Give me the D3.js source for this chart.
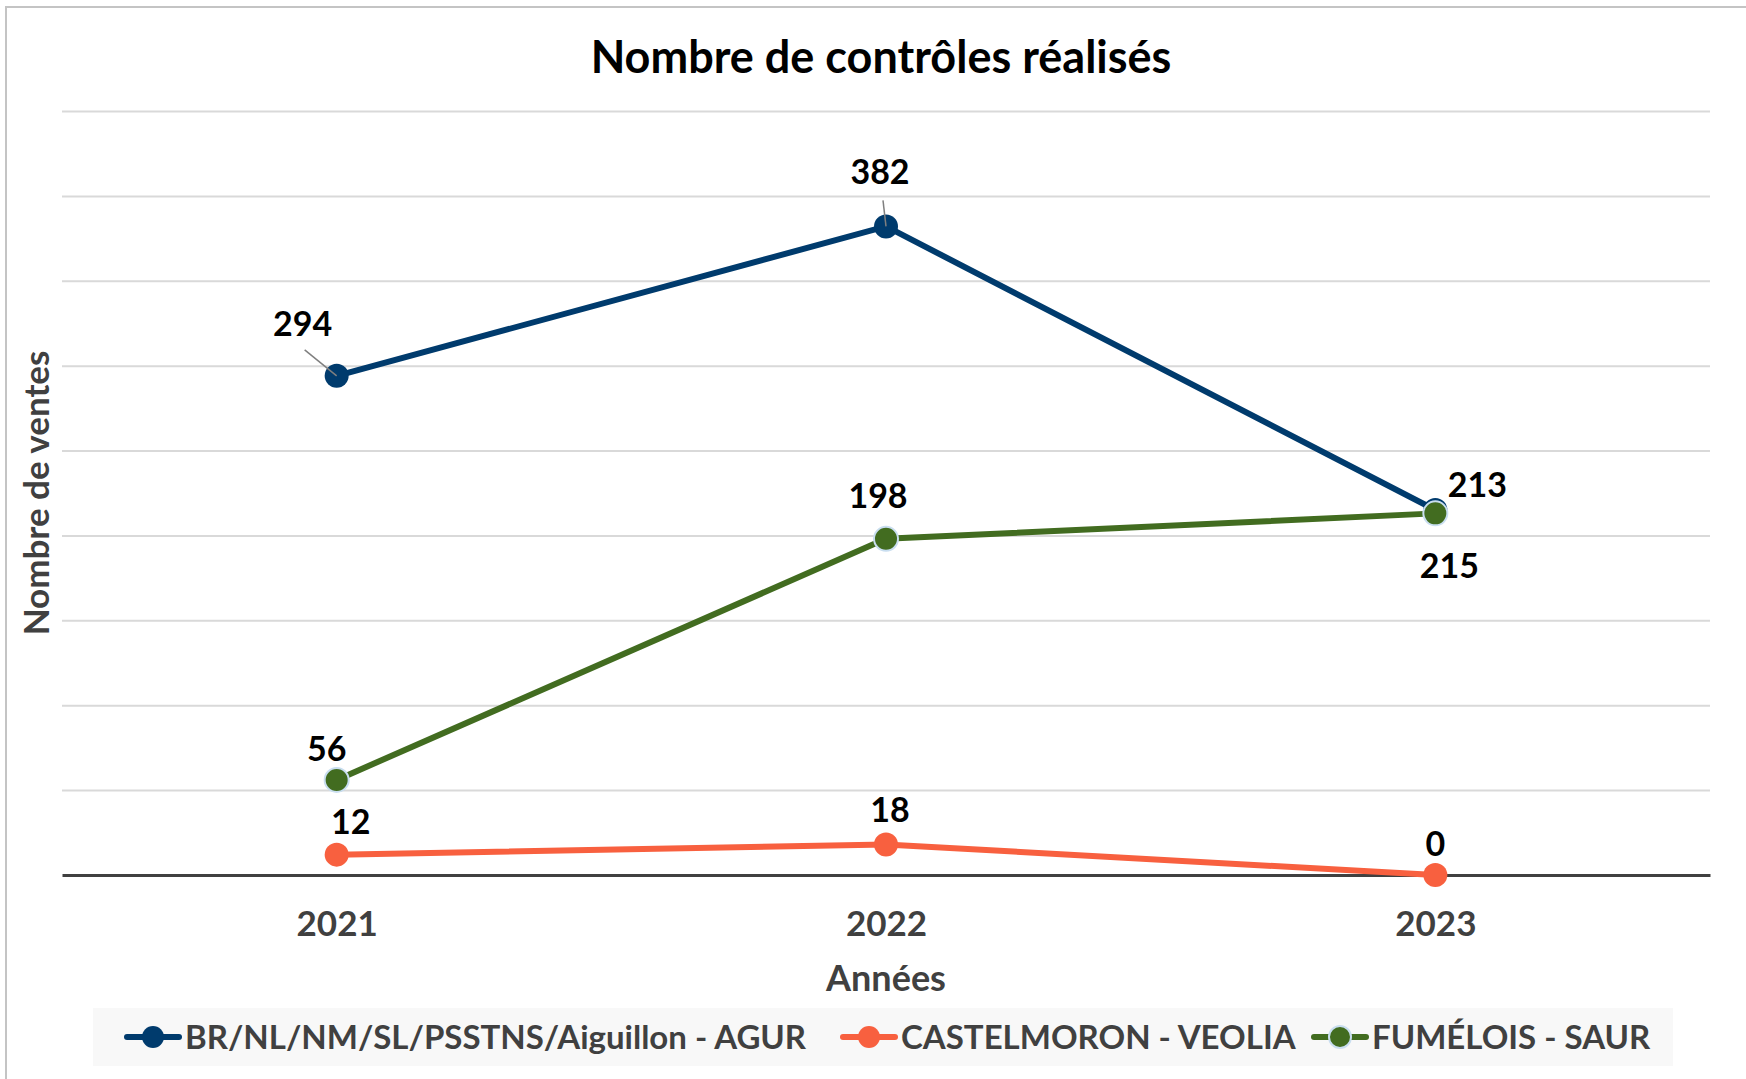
<!DOCTYPE html>
<html>
<head>
<meta charset="utf-8">
<script src="https://cdn.jsdelivr.net/npm/d3@7"></script>
<style>
  body { margin: 0; background: #fff; }
  text { font-family: Lato, 'Open Sans', sans-serif; font-weight: bold; }
</style>
</head>
<body>
<div class="chart"></div>
<script>
const years = ['2021', '2022', '2023']
const seriesNames = [
  'BR/NL/NM/SL/PSSTNS/Aiguillon - AGUR',
  'CASTELMORON - VEOLIA',
  'FUMÉLOIS - SAUR'
]
const agurValues = [294, 382, 215]
const veoliaValues = [12, 18, 0]
const saurValues = [56, 198, 213]
const yTicks = [0, 50, 100, 150, 200, 250, 300, 350, 400, 450]

// label offsets (dx, dy) relative to each point, in px
const labelOffsets = [
  [[-34, -52], [-6, -54], [14, 56]],
  [[14, -33], [4, -34], [0, -31]],
  [[-10, -31], [-8, -43], [42, -28]]
]
const leaderLines = [[true, true, false], [false, false, false], [false, false, false]]

const colors = ['#003b6d', '#f8603f', '#426c20']

const W = 1746
const H = 1079
const margin = {top: 111, right: 36, bottom: 204, left: 62}
const width = W - margin.left - margin.right
const height = H - margin.top - margin.bottom

const svg = d3.select('.chart')
  .append('svg')
  .attr('width', W)
  .attr('height', H)

svg.append('rect')
  .attr('width', W)
  .attr('height', H)
  .attr('fill', '#fff')

// outer chart frame
svg.append('rect')
  .attr('x', 6)
  .attr('y', 7)
  .attr('width', W + 20)
  .attr('height', H + 20)
  .attr('fill', 'none')
  .attr('stroke', '#c4c4c4')
  .attr('stroke-width', 2)

svg.append('text')
  .attr('x', 881)
  .attr('y', 73)
  .attr('text-anchor', 'middle')
  .style('font-size', '45px')
  .attr('fill', '#000')
  .text('Nombre de contrôles réalisés')

const g = svg.append('g')
  .attr('transform', 'translate(' + margin.left + ',' + margin.top + ')')

const x = d3.scalePoint()
  .domain(years)
  .range([0, width])
  .padding(0.5)

const y = d3.scaleLinear()
  .domain([0, 450])
  .range([height, 0])

// gridlines
g.append('g')
  .attr('class', 'grid')
  .call(d3.axisLeft(y).tickValues(yTicks.slice(1)).tickSize(-width).tickFormat(''))
  .call(s => s.select('.domain').remove())
  .call(s => s.selectAll('line').attr('stroke', '#d9d9d9').attr('stroke-width', 2))

// x axis
const xAxis = g.append('g')
  .attr('transform', 'translate(0,' + height + ')')
  .call(d3.axisBottom(x).tickSize(0).tickPadding(36))
xAxis.select('.domain')
  .attr('stroke', '#404040')
  .attr('stroke-width', 3)
xAxis.selectAll('text')
  .style('font-size', '35px')
  .attr('fill', '#404040')
  .attr('dy', '0.71em')

g.append('text')
  .attr('x', width / 2)
  .attr('y', height + 116)
  .attr('text-anchor', 'middle')
  .style('font-size', '36px')
  .attr('fill', '#404040')
  .text('Années')

svg.append('text')
  .attr('transform', 'translate(37,' + 493 + ') rotate(-90)')
  .attr('text-anchor', 'middle')
  .attr('dy', '0.35em')
  .style('font-size', '35px')
  .attr('fill', '#404040')
  .text('Nombre de ventes')

const series = [agurValues, veoliaValues, saurValues].map((vals, i) => ({
  name: seriesNames[i],
  color: colors[i],
  values: vals.map((v, j) => ({year: years[j], value: v, i: i, j: j}))
}))

const line = d3.line()
  .x(d => x(d.year))
  .y(d => y(d.value))

series.forEach((s, i) => {
  const sg = g.append('g')
  sg.append('path')
    .datum(s.values)
    .attr('d', line)
    .attr('fill', 'none')
    .attr('stroke', s.color)
    .attr('stroke-width', 6)
  sg.selectAll('circle')
    .data(s.values)
    .enter()
    .append('circle')
    .attr('cx', d => x(d.year))
    .attr('cy', d => y(d.value))
    .attr('r', 12)
    .attr('fill', s.color)
    .attr('stroke', i === 2 ? '#c9def0' : 'none')
    .attr('stroke-width', 2)
})

// data labels
series.forEach((s, i) => {
  s.values.forEach((d, j) => {
    const px = x(d.year)
    const py = y(d.value)
    const [dx, dy] = labelOffsets[i][j]
    if (leaderLines[i][j]) {
      g.append('line')
        .attr('x1', j === 0 ? px - 32 : px - 3)
        .attr('y1', py - 26)
        .attr('x2', px)
        .attr('y2', py)
        .attr('stroke', '#7f7f7f')
        .attr('stroke-width', 1.5)
    }
    g.append('text')
      .attr('x', px + dx)
      .attr('y', py + dy)
      .attr('text-anchor', 'middle')
      .attr('dy', '0.35em')
      .style('font-size', '34px')
      .attr('fill', '#000')
      .text(d.value)
  })
})

// legend
svg.append('rect')
  .attr('x', 93)
  .attr('y', 1008)
  .attr('width', 1580)
  .attr('height', 58)
  .attr('fill', '#f8f8f8')

const legendX = [127, 843, 1314]
const legend = svg.selectAll('.legend')
  .data(series)
  .enter()
  .append('g')
  .attr('class', 'legend')
  .attr('transform', (d, i) => 'translate(' + legendX[i] + ',1037)')
legend.append('line')
  .attr('x1', 0)
  .attr('x2', 52)
  .attr('stroke', d => d.color)
  .attr('stroke-width', 6)
  .attr('stroke-linecap', 'round')
legend.append('circle')
  .attr('cx', 26)
  .attr('r', 11)
  .attr('fill', d => d.color)
  .attr('stroke', (d, i) => i === 2 ? '#c9def0' : 'none')
  .attr('stroke-width', 2)
legend.append('text')
  .attr('x', 58)
  .attr('dy', '0.35em')
  .style('font-size', '33px')
  .attr('fill', '#404040')
  .text(d => d.name)
</script>
</body>
</html>
